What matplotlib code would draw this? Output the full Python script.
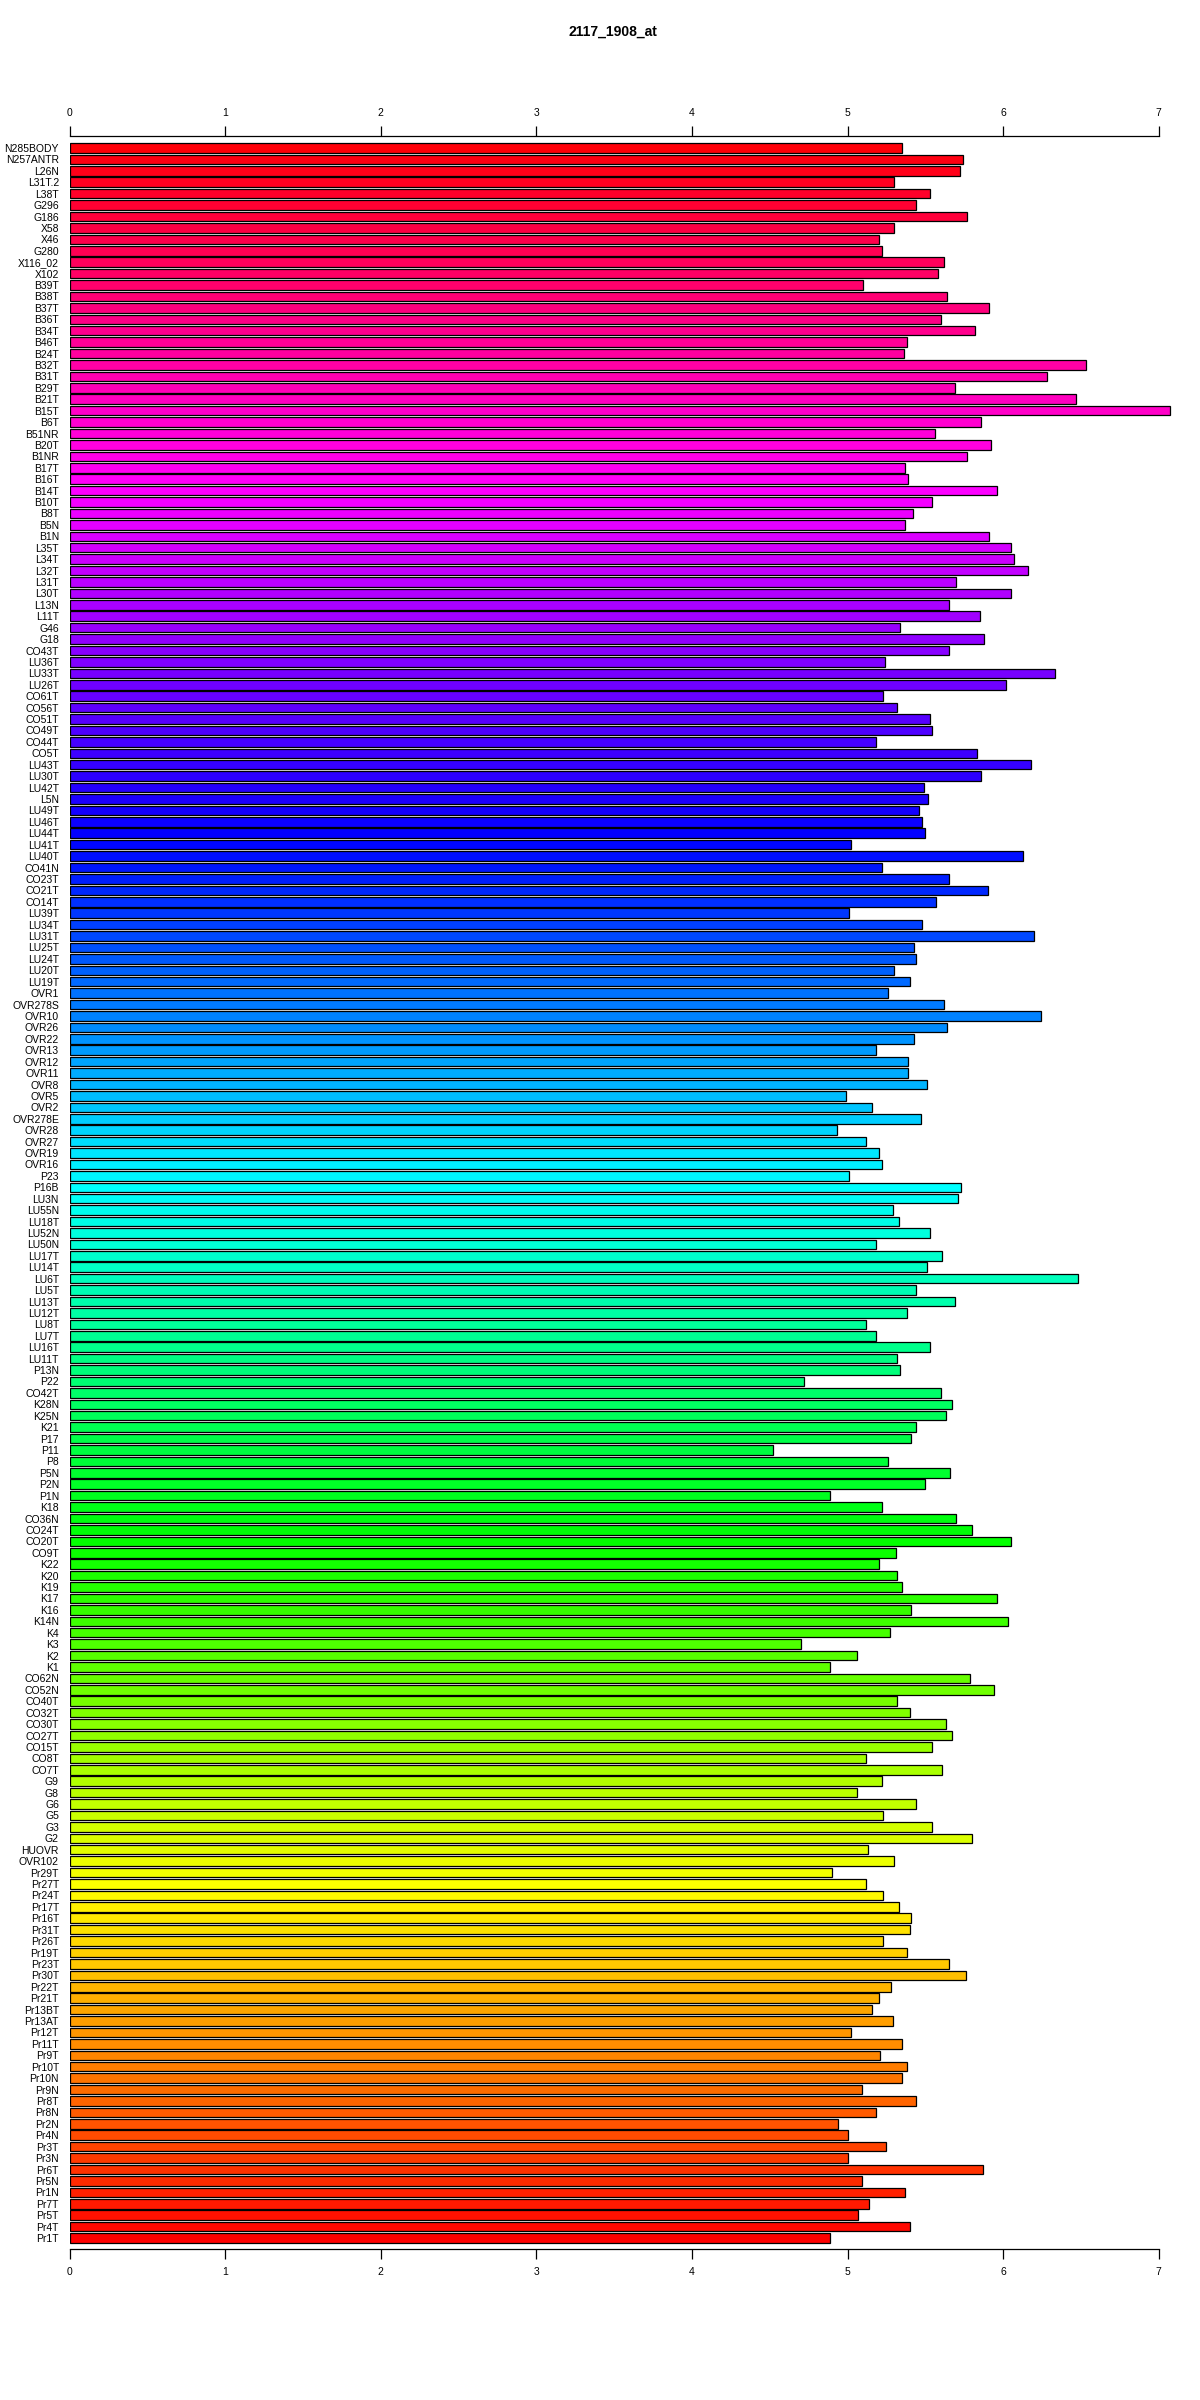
import numpy as np
import matplotlib.pyplot as plt
from matplotlib.colors import hsv_to_rgb

plt.rcParams['font.family'] = ['Liberation Sans Narrow', 'Liberation Sans', 'DejaVu Sans']

title = "2117_1908_at"

# labels listed top to bottom, as they appear in the chart
samples = [
    "N285BODY", "N257ANTR", "L26N", "L31T.2", "L38T", "G296", "G186", "X58", "X46", "G280",
    "X116_02", "X102", "B39T", "B38T", "B37T", "B36T", "B34T",
    "B46T", "B24T", "B32T", "B31T", "B29T", "B21T", "B15T", "B6T", "B51NR", "B20T", "B1NR",
    "B17T", "B16T", "B14T", "B10T", "B8T", "B5N",
    "B1N", "L35T", "L34T", "L32T", "L31T", "L30T", "L13N", "L11T", "G46", "G18", "CO43T",
    "LU36T", "LU33T", "LU26T", "CO61T", "CO56T",
    "CO51T", "CO49T", "CO44T", "CO5T", "LU43T", "LU30T", "LU42T", "L5N", "LU49T", "LU46T",
    "LU44T", "LU41T", "LU40T", "CO41N", "CO23T", "CO21T", "CO14T",
    "LU39T", "LU34T", "LU31T", "LU25T", "LU24T", "LU20T", "LU19T", "OVR1", "OVR278S", "OVR10",
    "OVR26", "OVR22", "OVR13", "OVR12", "OVR11", "OVR8", "OVR5",
    "OVR2", "OVR278E", "OVR28", "OVR27", "OVR19", "OVR16", "P23", "P16B", "LU3N", "LU55N",
    "LU18T", "LU52N", "LU50N", "LU17T", "LU14T", "LU6T",
    "LU5T", "LU13T", "LU12T", "LU8T", "LU7T", "LU16T", "LU11T", "P13N", "P22", "CO42T",
    "K28N", "K25N", "K21", "P17", "P11", "P8", "P5N",
    "P2N", "P1N", "K18", "CO36N", "CO24T", "CO20T", "CO9T", "K22", "K20", "K19", "K17",
    "K16", "K14N", "K4", "K3", "K2",
    "K1", "CO62N", "CO52N", "CO40T", "CO32T", "CO30T", "CO27T", "CO15T", "CO8T", "CO7T",
    "G9", "G8", "G6", "G5", "G3", "G2", "HUOVR",
    "OVR102", "Pr29T", "Pr27T", "Pr24T", "Pr17T", "Pr16T", "Pr31T", "Pr26T", "Pr19T", "Pr23T",
    "Pr30T", "Pr22T", "Pr21T", "Pr13BT", "Pr13AT", "Pr12T", "Pr11T",
    "Pr9T", "Pr10T", "Pr10N", "Pr9N", "Pr8T", "Pr8N", "Pr2N", "Pr4N", "Pr3T", "Pr3N",
    "Pr6T", "Pr5N", "Pr1N", "Pr7T", "Pr5T", "Pr4T", "Pr1T",
]

expression = [
    5.35, 5.74, 5.72, 5.30, 5.53, 5.44, 5.77, 5.30, 5.20, 5.22,
    5.62, 5.58, 5.10, 5.64, 5.91, 5.60, 5.82,
    5.38, 5.36, 6.53, 6.28, 5.69, 6.47, 7.07, 5.86, 5.56, 5.92, 5.77,
    5.37, 5.39, 5.96, 5.54, 5.42, 5.37,
    5.91, 6.05, 6.07, 6.16, 5.70, 6.05, 5.65, 5.85, 5.34, 5.88, 5.65,
    5.24, 6.33, 6.02, 5.23, 5.32,
    5.53, 5.54, 5.18, 5.83, 6.18, 5.86, 5.49, 5.52, 5.46, 5.48,
    5.50, 5.02, 6.13, 5.22, 5.65, 5.90, 5.57,
    5.01, 5.48, 6.20, 5.43, 5.44, 5.30, 5.40, 5.26, 5.62, 6.24,
    5.64, 5.43, 5.18, 5.39, 5.39, 5.51, 4.99,
    5.16, 5.47, 4.93, 5.12, 5.20, 5.22, 5.01, 5.73, 5.71, 5.29,
    5.33, 5.53, 5.18, 5.61, 5.51, 6.48,
    5.44, 5.69, 5.38, 5.12, 5.18, 5.53, 5.32, 5.34, 4.72, 5.60,
    5.67, 5.63, 5.44, 5.41, 4.52, 5.26, 5.66,
    5.50, 4.89, 5.22, 5.70, 5.80, 6.05, 5.31, 5.20, 5.32, 5.35, 5.96,
    5.41, 6.03, 5.27, 4.70, 5.06,
    4.89, 5.79, 5.94, 5.32, 5.40, 5.63, 5.67, 5.54, 5.12, 5.61,
    5.22, 5.06, 5.44, 5.23, 5.54, 5.80, 5.13,
    5.30, 4.90, 5.12, 5.23, 5.33, 5.41, 5.40, 5.23, 5.38, 5.65,
    5.76, 5.28, 5.20, 5.16, 5.29, 5.02, 5.35,
    5.21, 5.38, 5.35, 5.09, 5.44, 5.18, 4.94, 5.00, 5.25, 5.00,
    5.87, 5.09, 5.37, 5.14, 5.07, 5.40, 4.89,
]

n = len(samples)
pos = np.arange(n)

# rainbow, first bar (bottom) red, hue rising toward the top
hues = (n - 1 - pos) / n
colors = [hsv_to_rgb((h, 1.0, 1.0)) for h in hues]

fig = plt.figure(figsize=(12, 24), dpi=100)
ax = fig.add_axes([0.058, 0.06292, 0.9206, 0.88042])

ax.barh(pos, expression, height=0.83, color=colors, edgecolor='black', linewidth=0.9)

ax.set_xlim(0, 7.1)
ax.set_ylim(n - 1 + 0.96, -1.05)

ax.set_yticks(pos)
ax.set_yticklabels(samples, fontsize=7.5)
ax.tick_params(axis='y', length=0, pad=7.7)

ax.set_xticks(range(0, 8))
ax.tick_params(axis='x', top=True, labeltop=True, bottom=True, labelbottom=True,
               length=7, width=0.9, labelsize=7.5)
ax.tick_params(axis='x', which='major', pad=6)

# axis lines only from first to last tick
ax.spines[['left', 'right']].set_visible(False)
ax.spines['top'].set_bounds(0, 7)
ax.spines['bottom'].set_bounds(0, 7)
ax.spines['top'].set_linewidth(0.9)
ax.spines['bottom'].set_linewidth(0.9)

fig.text(613 / 1200, 1 - 32 / 2400, title, ha='center', va='center',
         fontsize=10, fontweight='bold')

fig.savefig("out.png", dpi=100)
